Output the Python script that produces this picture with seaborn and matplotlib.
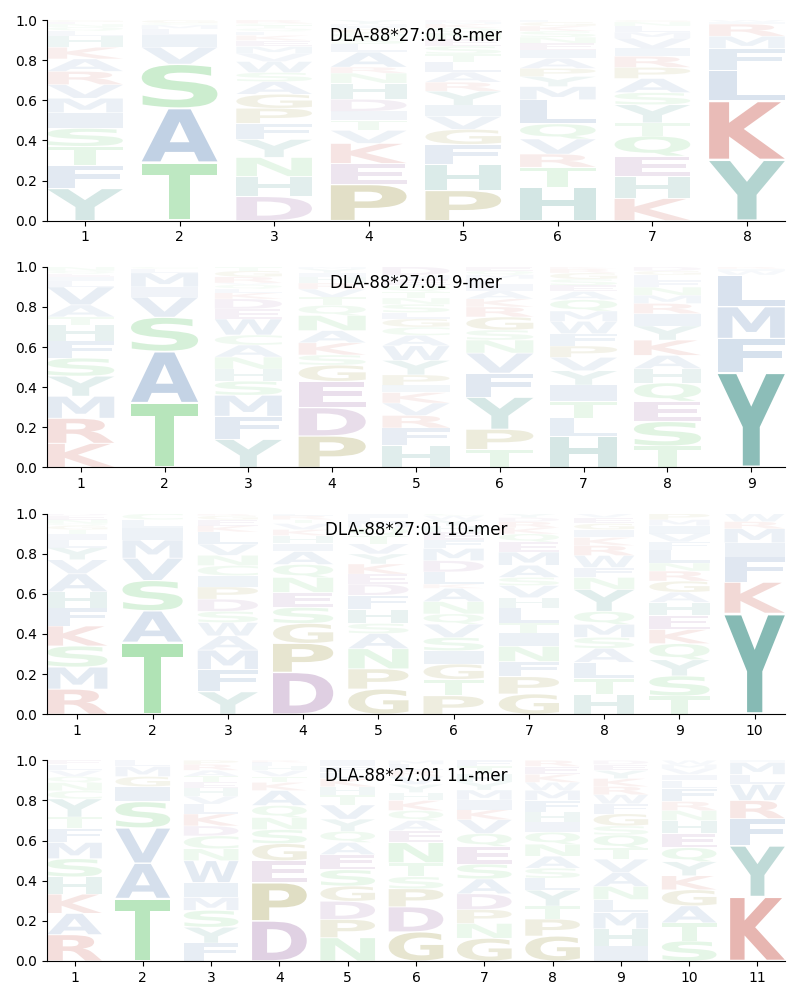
import numpy as np
import pandas as pd
import matplotlib
matplotlib.use("Agg")
import matplotlib.pyplot as plt
import matplotlib.transforms as mtransforms
from matplotlib.textpath import TextPath
from matplotlib.patches import PathPatch
from matplotlib.font_manager import FontProperties
import seaborn as sns

allele = "DLA-88*27:01"

# letters of each position, listed bottom -> top, with their heights
mer8_letters = [
    "YFTSIMVRAKHLQNEG", "TASVILMCG", "DHNYFPGASWVMEKLQTCR", "PEKVTIDHNRALSQGFMY",
    "PHFGVIYRALTSENQKMD", "HTRVQLMYPAIENSKGF", "KHEQTYSAPRIVMLNG", "YKLFMRIW",
]
mer8_heights = [
    [.16, .115, .095, .09, .078, .072, .068, .066, .062, .058, .056, .025, .02, .015, .01, .01],
    [.29, .27, .22, .085, .06, .03, .02, .01, .015],
    [.12, .10, .095, .09, .08, .075, .07, .063, .045, .055, .04, .035, .03, .025, .02, .015, .015, .01, .017],
    [.18, .105, .10, .065, .05, .045, .06, .08, .05, .03, .075, .04, .03, .025, .02, .015, .01, .02],
    [.15, .13, .10, .075, .065, .055, .07, .045, .05, .05, .04, .04, .035, .03, .025, .02, .01, .01],
    [.165, .10, .065, .075, .075, .12, .065, .05, .04, .05, .04, .035, .03, .03, .025, .02, .01],
    [.11, .11, .10, .10, .065, .09, .06, .07, .055, .055, .04, .05, .03, .03, .02, .01],
    [.30, .29, .15, .11, .06, .06, .01, .01],
]

mer9_letters = [
    "KRMYSFHTAVLIEQN", "TASVIMLC", "YFMSHNACWEDKLQVRGT", "PDEGSKANQTVRHIYM",
    "HFRVKIPYWACGLSNTQEMD", "TPYFVNSGRKAILMQE", "HLTIYVPFWMQAESGRK",
    "TSEQHAKYIRMNFLGD", "YFMLWIR",
]
mer9_heights = [
    [.12, .125, .11, .10, .09, .085, .08, .04, .06, .09, .03, .02, .015, .015, .02],
    [.32, .255, .17, .10, .05, .07, .02, .01],
    [.14, .115, .105, .07, .06, .06, .06, .05, .08, .05, .05, .03, .02, .02, .01, .03, .03, .02],
    [.155, .14, .13, .08, .05, .06, .06, .075, .05, .04, .04, .03, .03, .02, .02, .01],
    [.105, .085, .06, .06, .05, .035, .05, .07, .07, .05, .04, .04, .03, .04, .03, .03, .03, .03, .02, .04],
    [.09, .10, .16, .12, .10, .065, .05, .065, .05, .04, .04, .03, .03, .02, .02, .02],
    [.15, .09, .08, .08, .07, .065, .055, .06, .06, .05, .055, .04, .03, .03, .03, .02, .01],
    [.105, .12, .10, .09, .07, .065, .075, .07, .06, .05, .04, .04, .03, .03, .02, .02],
    [.465, .165, .155, .155, .02, .01, .01],
]

mer10_letters = [
    "RMSKFHAVYLITGQNED", "TASVMILC", "YFMAWSDPICNVLKEGR", "DPGSENQAIHKVTRL",
    "GPNASHFDEKYVTQMLI", "PTGISVQNAKLDMFEHYWC", "GPFNITLHVSAMEQKRDY",
    "HTLASMQYNFWRKIGEV", "TSYQKEHAGRNLFVIMP", "YKFIMRW",
]
mer10_heights = [
    [.125, .11, .105, .10, .09, .08, .09, .07, .06, .04, .03, .02, .02, .01, .02, .02, .01],
    [.355, .155, .15, .11, .09, .06, .04, .03],
    [.11, .11, .095, .07, .065, .055, .06, .06, .055, .05, .05, .055, .06, .03, .03, .02, .01],
    [.21, .145, .10, .08, .075, .075, .065, .065, .04, .04, .03, .03, .02, .02, .01],
    [.125, .10, .10, .075, .05, .07, .07, .055, .05, .05, .05, .05, .04, .04, .03, .02, .02],
    [.09, .08, .075, .065, .065, .065, .05, .06, .065, .02, .06, .055, .06, .04, .04, .03, .03, .02, .01],
    [.10, .085, .075, .075, .065, .05, .075, .05, .06, .04, .06, .065, .05, .04, .03, .03, .02, .02],
    [.10, .08, .08, .07, .055, .065, .065, .11, .06, .05, .06, .05, .04, .04, .03, .03, .02],
    [.09, .10, .08, .08, .07, .07, .065, .05, .055, .05, .04, .065, .04, .04, .04, .03, .03],
    [.50, .155, .125, .07, .07, .035, .04],
]

mer11_letters = [
    "RAKHSMFTYCNQVLE", "TAVSIGML", "FYSMIWNCDKLVHETARP", "DPEGSNQAKTVHLR",
    "NPDGSEAQYVTHKLFI", "GDPSTNEAQKHYVRLM", "GNPDASEQVKIMYHTF",
    "GPTYLSANQIHFMWKER", "IHMLNAVTQSGFWRKYED", "STAGKYQEHNRFLIVMW", "KYFRWLMI",
]
mer11_heights = [
    [.13, .105, .095, .085, .09, .08, .07, .055, .09, .04, .04, .03, .03, .03, .02],
    [.31, .175, .175, .13, .075, .05, .05, .03],
    [.09, .08, .085, .065, .075, .11, .06, .065, .05, .06, .05, .04, .04, .03, .03, .03, .03, .02],
    [.20, .19, .11, .085, .07, .06, .06, .075, .04, .03, .03, .02, .02, .01],
    [.115, .09, .09, .075, .08, .075, .06, .055, .06, .07, .05, .04, .04, .03, .03, .03],
    [.145, .125, .09, .06, .07, .10, .06, .05, .05, .05, .04, .04, .04, .03, .03, .02],
    [.115, .075, .07, .08, .075, .075, .09, .065, .07, .05, .05, .05, .04, .04, .04, .03],
    [.125, .085, .065, .08, .06, .05, .06, .06, .06, .05, .05, .06, .05, .04, .04, .04, .03],
    [.075, .085, .08, .065, .065, .07, .065, .055, .065, .045, .06, .05, .045, .04, .04, .04, .03, .02],
    [.10, .09, .085, .08, .07, .07, .07, .07, .065, .05, .045, .065, .04, .03, .03, .02, .02],
    [.32, .255, .135, .09, .08, .05, .06, .01],
]

group_colors = {
    "YH": "#5fa49c",
    "KR": "#cf6b61",
    "STNQC": "#6fcc78",
    "AVLIMFW": "#6d92bf",
    "DE": "#a070a9",
    "PG": "#9b943e",
}
letter_color = {aa: col for grp, col in group_colors.items() for aa in grp}

glyph_font = FontProperties(family="DejaVu Sans", weight="bold")


def logo_frame(letters, heights):
    rows = []
    for pos, (lets, hs) in enumerate(zip(letters, heights), start=1):
        hs = np.array(hs, dtype=float)
        hs = hs / hs.sum()
        bottoms = np.concatenate([[0], np.cumsum(hs)[:-1]])
        for aa, h, b in zip(lets, hs, bottoms):
            rows.append({"pos": pos, "aa": aa, "height": h, "bottom": b})
    return pd.DataFrame(rows)


def draw_letter(ax, aa, x, y0, h, width=0.8):
    path = TextPath((0, 0), aa, size=1, prop=glyph_font)
    bb = path.get_extents()
    pad = 0.02 * h
    tr = (mtransforms.Affine2D()
          .translate(-bb.x0, -bb.y0)
          .scale(width / bb.width, (h - 2 * pad) / bb.height)
          .translate(x - width / 2, y0 + pad))
    alpha = min(1.0, 0.03 + 1.45 * h)
    ax.add_patch(PathPatch(tr.transform_path(path), facecolor=letter_color[aa],
                           edgecolor="none", alpha=alpha))


sns.set_style("ticks", {"axes.edgecolor": "black", "xtick.color": "black",
                        "ytick.color": "black", "text.color": "black"})
fig, axes = plt.subplots(4, 1, figsize=(8, 10), dpi=100)
fig.subplots_adjust(left=0.059, right=0.981, top=0.98, bottom=0.039, hspace=0.23)

panels = [
    (8, mer8_letters, mer8_heights),
    (9, mer9_letters, mer9_heights),
    (10, mer10_letters, mer10_heights),
    (11, mer11_letters, mer11_heights),
]

for ax, (n, lets, hs) in zip(axes, panels):
    df = logo_frame(lets, hs)
    for r in df.itertuples():
        draw_letter(ax, r.aa, r.pos, r.bottom, r.height)
    ax.set_xlim(0.6, n + 0.4)
    ax.set_ylim(0, 1)
    ax.set_xticks(range(1, n + 1))
    ax.set_yticks(np.arange(0, 1.01, 0.2))
    ax.text(0.5, 0.92, f"{allele} {n}-mer", transform=ax.transAxes,
            ha="center", va="center", fontsize=12, color="black", zorder=5)
    sns.despine(ax=ax)

fig.savefig("out.png", dpi=100)
